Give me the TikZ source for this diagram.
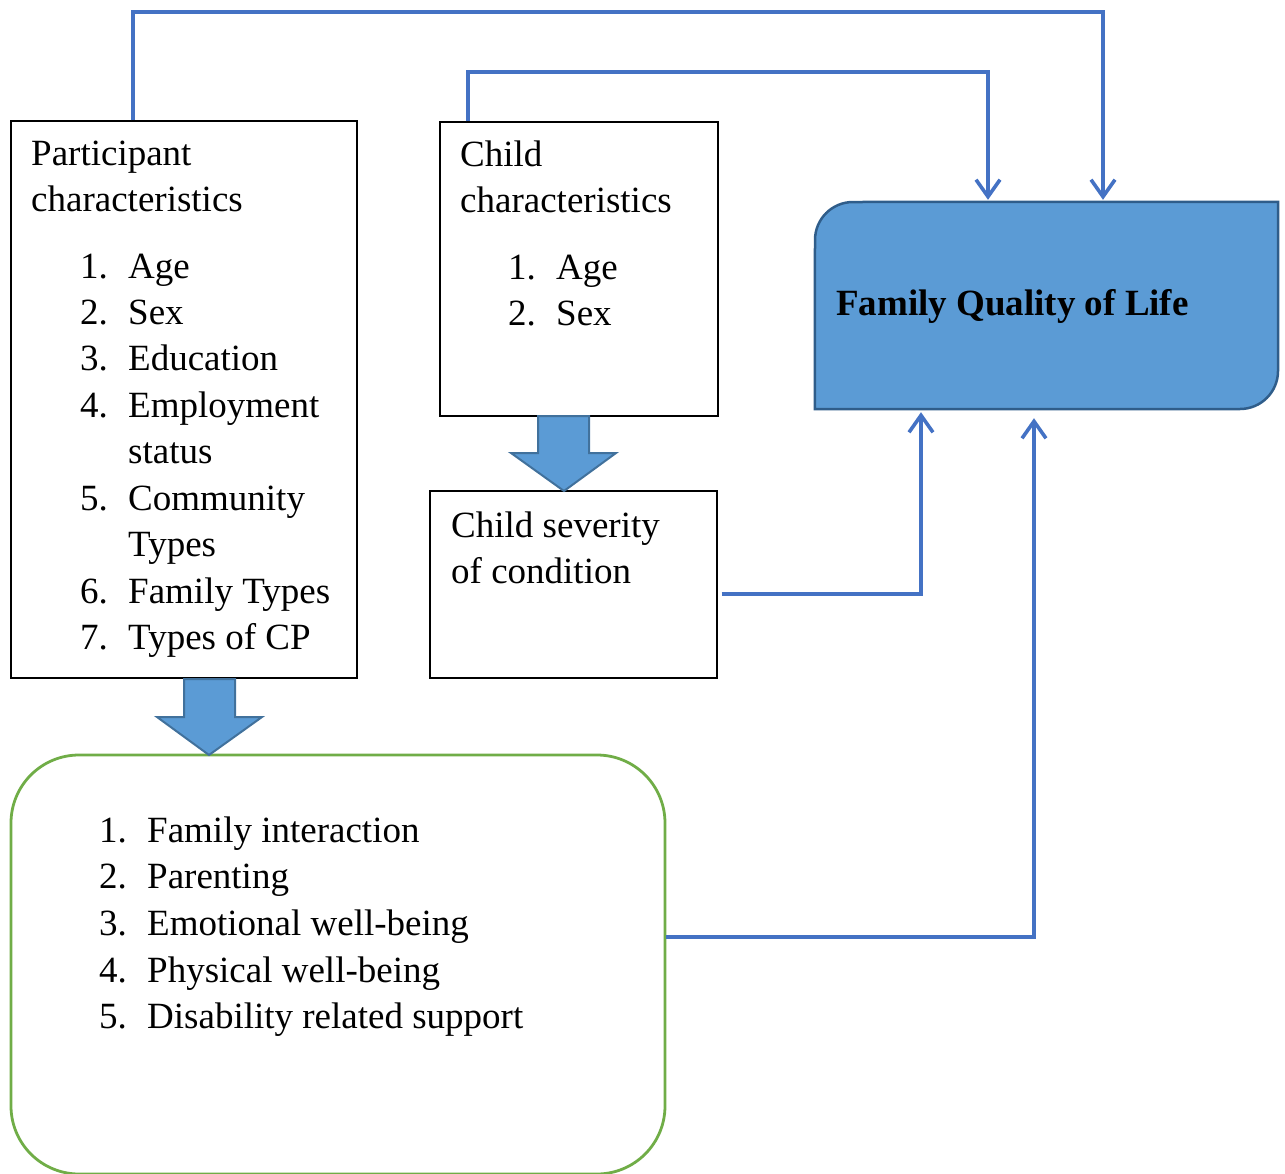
\documentclass[tikz,border=0pt]{standalone}
\usepackage{fontspec}
\setmainfont{Liberation Serif}
\usetikzlibrary{arrows.meta,calc}
\definecolor{conn}{HTML}{4472C4}
\definecolor{fqfill}{HTML}{5B9BD5}
\definecolor{fqedge}{HTML}{2F5D8A}
\definecolor{blkedge}{HTML}{41719C}
\definecolor{grn}{HTML}{70AD47}
\begin{document}
\begin{tikzpicture}[x=1pt,y=-1pt,
  box/.style={draw=black, line width=1.3pt, inner sep=0pt, rectangle},
  hidden/.style={inner sep=0pt, rectangle},
  txt/.style={anchor=base west, inner sep=0pt, font=\fontsize{37}{46}\selectfont},
  link/.style={draw=conn, line width=3.6pt, line join=miter},
  tip/.style={-{Straight Barb[length=17pt,width=24pt,line width=3.6pt]}},
  blk/.style={fill=fqfill, draw=blkedge, line width=2pt, line join=miter}]
\useasboundingbox (0,0) rectangle (1285,1173);

% boxes
\node[box, minimum width=346pt, minimum height=557pt] (pc) at (184,399.5) {};
\node[box, minimum width=278pt, minimum height=294pt] (cc) at (579,269) {};
\node[box, minimum width=287pt, minimum height=187pt] (sv) at (573.5,584.5) {};
\node[hidden, minimum width=463pt, minimum height=207pt] (fq) at (1046.5,305.5) {};
\node[box, draw=grn, line width=2.8pt, rounded corners=68pt, minimum width=654pt, minimum height=419pt] (gr) at (338,964.5) {};

% FQoL shape
\draw[fill=fqfill, draw=fqedge, line width=2.5pt, line join=miter]
  (fq.south west) -- (815,240) .. controls (815,219) and (832,202) .. (853,202)
  -- (fq.north east) -- (1278,371) .. controls (1278,392) and (1261,409) .. (1240,409) -- cycle;

% block arrows
\draw[blk] (184,679) -- (235,679) -- (235,717) -- (262,717) -- (209,755) -- (157,717) -- (184,717) -- cycle;
\draw[blk] (538,416) -- (589,416) -- (589,453) -- (616,453) -- (564,491) -- (511,453) -- (538,453) -- cycle;

% participant text
\node[txt] (p0) at (31,165) {Participant};
\node[txt] (p1) at (31,211) {characteristics};
\node[txt] (pn1) at (80,278) {1.}; \node[txt] (pt1) at (128,278) {Age};
\node[txt] (pn2) at (80,324) {2.}; \node[txt] (pt2) at (128,324) {Sex};
\node[txt] (pn3) at (80,370) {3.}; \node[txt] (pt3) at (128,370) {Education};
\node[txt] (pn4) at (80,417) {4.}; \node[txt] (pt4) at (128,417) {Employment};
\node[txt] (pt4b) at (128,463) {status};
\node[txt] (pn5) at (80,510) {5.}; \node[txt] (pt5) at (128,510) {Community};
\node[txt] (pt5b) at (128,556) {Types};
\node[txt] (pn6) at (80,603) {6.}; \node[txt] (pt6) at (128,603) {Family Types};
\node[txt] (pn7) at (80,649) {7.}; \node[txt] (pt7) at (128,649) {Types of CP};

% child text
\node[txt] (c0) at (460,166) {Child};
\node[txt] (c1) at (460,212) {characteristics};
\node[txt] (cn1) at (508,279) {1.}; \node[txt] (ct1) at (556,279) {Age};
\node[txt] (cn2) at (508,325) {2.}; \node[txt] (ct2) at (556,325) {Sex};

% severity text
\node[txt] (s0) at (451,537) {Child severity};
\node[txt] (s1) at (451,583) {of condition};

% FQoL text
\node[txt, font=\fontsize{37}{46}\selectfont\bfseries] (f0) at (836,315) {Family Quality of Life};

% green list
\node[txt] (gn1) at (99,842) {1.}; \node[txt] (gt1) at (147,842) {Family interaction};
\node[txt] (gn2) at (99,888) {2.}; \node[txt] (gt2) at (147,888) {Parenting};
\node[txt] (gn3) at (99,935) {3.}; \node[txt] (gt3) at (147,935) {Emotional well-being};
\node[txt] (gn4) at (99,982) {4.}; \node[txt] (gt4) at (147,982) {Physical well-being};
\node[txt] (gn5) at (99,1028) {5.}; \node[txt] (gt5) at (147,1028) {Disability related support};

% connectors
\coordinate (a1) at (133,12); \coordinate (a2) at (1103,12);
\draw[link,tip] (a1 |- pc.north) -- (a1) -- (a2) -- ($(a2 |- fq.north)+(0,-2)$);
\coordinate (b1) at (468,72); \coordinate (b2) at (988,72);
\draw[link,tip] (b1 |- cc.north) -- (b1) -- (b2) -- ($(b2 |- fq.north)+(0,-2)$);
\coordinate (d1) at (921,594);
\draw[link,tip] ($(sv.east |- d1)+(4,0)$) -- (d1) -- ($(d1 |- fq.south)+(0,3)$);
\coordinate (e1) at (1034,937);
\draw[link,tip] (gr.east |- e1) -- (e1) -- ($(e1 |- fq.south)+(0,9)$);
\end{tikzpicture}
\end{document}
